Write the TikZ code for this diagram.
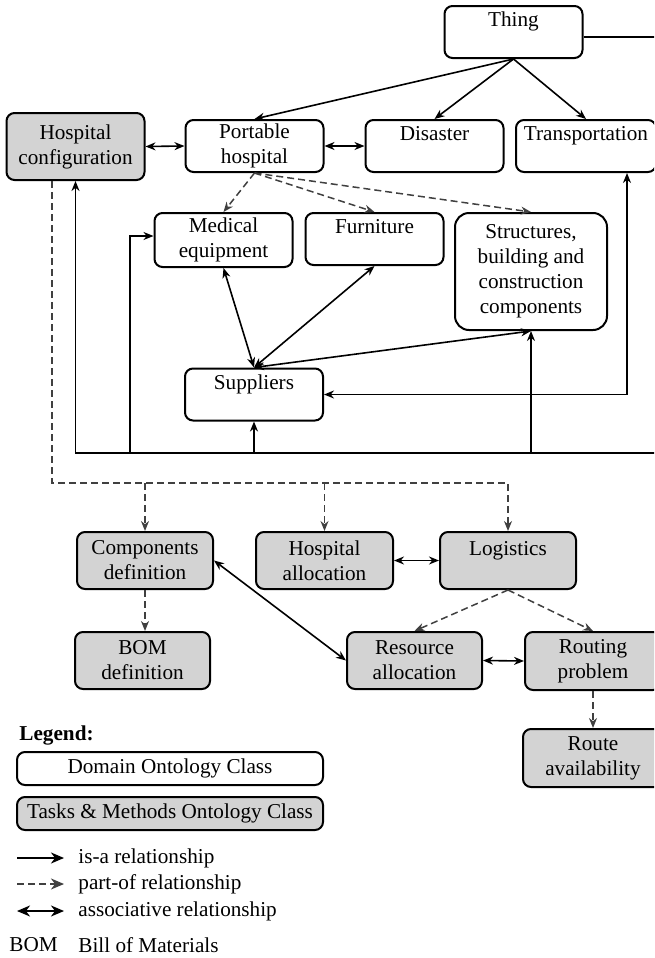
\documentclass[tikz,border=0pt]{standalone}
\usepackage{fontspec}
\setmainfont{Liberation Serif}
\usetikzlibrary{calc,arrows.meta}
\definecolor{taskgray}{RGB}{211,211,211}
\definecolor{dashgray}{RGB}{64,64,64}

\begin{document}
\begin{tikzpicture}[
        >={Stealth[length=5pt,width=4pt,inset=1.6pt]},
        x=0.5pt, y=-0.5pt,
        every node/.style={font=\fontsize{10.6}{12.5}\selectfont},
        dombox/.style={draw, line width=1pt, rounded corners=4pt, fill=white, align=center,
                minimum width=69pt, minimum height=26pt, inner sep=1pt},
        taskbox/.style={dombox, fill=taskgray, minimum height=28.5pt},
        isa/.style={->, line width=0.8pt},
        assoc/.style={<->, line width=0.8pt},
        partof/.style={->, line width=0.75pt, dash pattern=on 3.5pt off 2pt, draw=dashgray},
        bigtip/.style={>={Stealth[length=6.5pt,width=5.5pt,inset=2pt]}},
        ]
        \clip (0,0) rectangle (654,958);
        % domain ontology
        \node[dombox] (thing) at (513.5,32) {Thing\\~};
        \node[taskbox, minimum height=33.5pt] (hconf) at (75.5,146.5) {Hospital\\configuration};
        \node[dombox] (port) at (254.5,146) {Portable\\hospital};
        \node[dombox] (dis) at (434.5,146) {Disaster\\~};
        \node[dombox, minimum width=70pt] (trans) at (586,146) {Transportation\\~};
        \node[dombox, minimum height=27pt] (med) at (223.5,240) {Medical\\equipment};
        \node[dombox] (furn) at (374.5,239) {Furniture\\~};
        \node[dombox, minimum width=76pt, minimum height=58.5pt, rounded corners=7pt] (struct) at (531,271.5)
                {Structures,\\building and\\construction\\components};
        \node[dombox] (sup) at (254,394.5) {Suppliers\\~};
        % tasks and methods
        \node[taskbox, minimum width=68pt] (comp) at (145,560.5) {Components\\definition};
        \node[taskbox, minimum width=68.5pt] (halloc) at (324.5,560.5) {Hospital\\allocation};
        \node[taskbox, minimum width=68pt] (logi) at (508,560.5) {Logistics\\~};
        \node[taskbox, minimum width=67.5pt] (bom) at (142.5,660.5) {BOM\\definition};
        \node[taskbox, minimum width=67.5pt] (ralloc) at (414.5,660.5) {Resource\\allocation};
        \node[taskbox, minimum width=68pt, minimum height=29pt] (rout) at (593,661) {Routing\\problem};
        \node[taskbox, minimum width=70pt, minimum height=29pt] (ravail) at (593,758) {Route\\availability};

        % is-a
        \draw[isa] (thing.south) -- (port.north);
        \draw[isa] (thing.south) -- (dis.north);
        \draw[isa] (thing.south) -- (trans.north);
        \coordinate (busR) at (700,453);
        \coordinate (busL) at (75.5,453);
        \coordinate (medturn) at (130,453);
        \draw[isa] ([yshift=-2.5pt]thing.east) -| (busR) -- (busL) -- (hconf.south);
        \draw[isa] (medturn) |- ([yshift=2pt]med.west);
        \draw[isa] (sup.south |- busL) -- (sup.south);
        \draw[isa] (struct.south |- busL) -- (struct.south);

        % associative
        \draw[assoc] (hconf.east) -- (port.west);
        \draw[assoc] (port.east) -- (dis.west);
        \draw[assoc] ($(trans.south)+(41,0)$) |- (sup.east);
        \draw[assoc] (med.south) -- (sup.north);
        \draw[assoc] (furn.south) -- (sup.north);
        \draw[assoc] (struct.south) -- (sup.north);
        \draw[assoc] (comp.east) -- (ralloc.west);
        \draw[assoc] (halloc.east) -- (logi.west);
        \draw[assoc] (ralloc.east) -- (rout.west);

        % part-of
        \draw[partof] (port.south) -- (med.north);
        \draw[partof] (port.south) -- (furn.north);
        \draw[partof] (port.south) -- (struct.north);
        \coordinate (dbus) at (52,483);
        \draw[partof] ($(hconf.south)+(-23.5,0)$) |- (logi.north |- dbus) -- (logi.north);
        \draw[partof] (comp.north |- dbus) -- (comp.north);
        \draw[partof] (halloc.north |- dbus) -- (halloc.north);
        \draw[partof] (comp.south) -- (comp.south |- bom.north);
        \draw[partof] (logi.south) -- (ralloc.north);
        \draw[partof] (logi.south) -- (rout.north);
        \draw[partof] (rout.south) -- (ravail.north);

        % legend
        \node[anchor=west, inner sep=0pt] (leg) at (19,735) {\bfseries Legend:};
        \node[dombox, minimum width=153pt, minimum height=16.5pt] (ldom) at (170,768.5) {Domain Ontology Class};
        \node[taskbox, minimum width=153pt, minimum height=16.5pt] (ltask) at (170,813.5) {Tasks \& Methods Ontology Class};
        \node[anchor=west, inner sep=0pt] (lisa) at (78,858) {is-a relationship};
        \node[anchor=west, inner sep=0pt] (lpart) at (78,884) {part-of relationship};
        \node[anchor=west, inner sep=0pt] (lassoc) at (78,911) {associative relationship};
        \draw[isa, bigtip, line width=1pt] ($(lisa.west)+(-61,0)$) -- ($(lisa.west)+(-14,0)$);
        \draw[partof, bigtip, line width=1pt] ($(lpart.west)+(-61,0)$) -- ($(lpart.west)+(-14,0)$);
        \draw[assoc, bigtip, line width=1pt] ($(lassoc.west)+(-61,0)$) -- ($(lassoc.west)+(-14,0)$);
        \node[anchor=west, inner sep=0pt] (lbom) at (9,945) {BOM};
        \node[anchor=west, inner sep=0pt] (lbomtxt) at (78,945) {Bill of Materials};
\end{tikzpicture}
\end{document}
